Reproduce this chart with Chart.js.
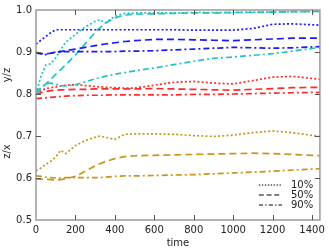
<!DOCTYPE html>
<html>
<head>
<meta charset="utf-8">
<script src="https://cdn.jsdelivr.net/npm/chart.js@4"></script>
<style>
  html, body { margin: 0; padding: 0; background: #fff; }
</style>
</head>
<body>
<canvas id="chart" width="329" height="250"></canvas>
<script>
const times  = [0, 25, 50, 75, 100, 125, 150, 200, 250, 300, 325, 350, 400, 450, 500, 600, 700, 800, 900, 1000, 1100, 1200, 1300, 1440];

// y/z curves
const blue10 = [0.919, 0.928, 0.937, 0.946, 0.953, 0.953, 0.953, 0.953, 0.953, 0.953, 0.953, 0.953, 0.953, 0.953, 0.953, 0.953, 0.953, 0.952, 0.952, 0.952, 0.956, 0.966, 0.967, 0.964];
const blue50 = [0.897, 0.896, 0.896, 0.897, 0.899, 0.901, 0.903, 0.907, 0.911, 0.915, 0.917, 0.919, 0.922, 0.925, 0.927, 0.930, 0.930, 0.929, 0.928, 0.927, 0.929, 0.931, 0.933, 0.933];
const blue90 = [0.899, 0.896, 0.894, 0.897, 0.900, 0.901, 0.901, 0.901, 0.901, 0.901, 0.901, 0.901, 0.901, 0.902, 0.902, 0.903, 0.905, 0.907, 0.909, 0.911, 0.910, 0.909, 0.910, 0.913];
const cyan10 = [0.800, 0.842, 0.869, 0.872, 0.886, 0.905, 0.923, 0.942, 0.960, 0.973, 0.977, 0.969, 0.985, 0.992, 0.993, 0.993, 0.993, 0.994, 0.994, 0.994, 0.995, 0.995, 0.996, 0.996];
const cyan50 = [0.800, 0.812, 0.824, 0.835, 0.847, 0.858, 0.869, 0.893, 0.920, 0.947, 0.958, 0.968, 0.981, 0.988, 0.990, 0.991, 0.992, 0.993, 0.993, 0.994, 0.994, 0.995, 0.996, 0.997];
const cyan90 = [0.805, 0.815, 0.824, 0.826, 0.823, 0.820, 0.819, 0.822, 0.829, 0.836, 0.839, 0.842, 0.847, 0.851, 0.855, 0.862, 0.870, 0.878, 0.885, 0.888, 0.892, 0.896, 0.902, 0.911];
const red10  = [0.800, 0.808, 0.813, 0.815, 0.817, 0.819, 0.821, 0.822, 0.820, 0.818, 0.817, 0.816, 0.815, 0.814, 0.814, 0.821, 0.828, 0.830, 0.826, 0.824, 0.832, 0.840, 0.842, 0.835];
const red50  = [0.799, 0.803, 0.806, 0.808, 0.809, 0.810, 0.810, 0.811, 0.811, 0.812, 0.812, 0.812, 0.812, 0.812, 0.812, 0.813, 0.812, 0.811, 0.810, 0.809, 0.811, 0.813, 0.815, 0.816];
const red90  = [0.789, 0.790, 0.791, 0.792, 0.793, 0.794, 0.795, 0.796, 0.797, 0.797, 0.797, 0.797, 0.798, 0.798, 0.798, 0.798, 0.798, 0.799, 0.799, 0.800, 0.801, 0.802, 0.803, 0.804];

// z/x curves
const gold10 = [0.617, 0.624, 0.632, 0.640, 0.650, 0.666, 0.658, 0.677, 0.689, 0.697, 0.700, 0.697, 0.692, 0.704, 0.705, 0.705, 0.704, 0.701, 0.699, 0.702, 0.708, 0.712, 0.708, 0.699];
const gold50 = [0.597, 0.597, 0.597, 0.596, 0.595, 0.596, 0.598, 0.604, 0.616, 0.629, 0.634, 0.639, 0.646, 0.651, 0.653, 0.654, 0.655, 0.656, 0.657, 0.658, 0.659, 0.658, 0.656, 0.653];
const gold90 = [0.605, 0.604, 0.602, 0.601, 0.600, 0.600, 0.601, 0.601, 0.601, 0.601, 0.601, 0.602, 0.604, 0.605, 0.605, 0.606, 0.607, 0.608, 0.610, 0.612, 0.614, 0.616, 0.619, 0.622];

const xTicks = [0, 200, 400, 600, 800, 1000, 1200, 1400];
const legendLabels = ['10%', '50%', '90%'];
const axisTitles = ['y/z', 'z/x'];

const FONT = 'DejaVu Sans';
const dashes = {
    '10%': [2, 2.2],
    '50%': [7, 4],
    '90%': [6, 3, 2, 3]
};

const series = [
    [blue10, '#1a1aff', '10%'], [blue50, '#1a1aff', '50%'], [blue90, '#1a1aff', '90%'],
    [cyan10, '#22c2c2', '10%'], [cyan50, '#22c2c2', '50%'], [cyan90, '#22c2c2', '90%'],
    [red10, '#ff2a2a', '10%'], [red50, '#ff2a2a', '50%'], [red90, '#ff2a2a', '90%'],
    [gold10, '#c8961a', '10%'], [gold50, '#c8961a', '50%'], [gold90, '#c8961a', '90%']
];

const datasets = series.map(([vals, color, q]) => ({
    label: q,
    data: times.map((t, i) => ({ x: t, y: vals[i] })),
    borderColor: color,
    borderWidth: 1.7,
    borderDash: dashes[q],
    pointRadius: 0,
    tension: 0,
    fill: false
}));

// box, inward ticks, the two y titles and the legend
const decor = {
    id: 'decor',
    afterDatasetsDraw(chart) {
        const { ctx, chartArea: a, scales } = chart;
        const xs = scales.x, ys = scales.y;
        ctx.save();
        ctx.lineWidth = 1.5;
        ctx.strokeStyle = '#9a9a9a';
        ctx.strokeRect(a.left, a.top, a.right - a.left, a.bottom - a.top);

        ctx.lineWidth = 1;
        ctx.strokeStyle = '#555';
        const seg = (x1, y1, x2, y2) => {
            ctx.beginPath(); ctx.moveTo(x1, y1); ctx.lineTo(x2, y2); ctx.stroke();
        };
        xs.ticks.forEach(t => {
            const px = Math.round(xs.getPixelForValue(t.value)) + 0.5;
            if (px <= a.left + 1 || px >= a.right - 1) return;
            seg(px, a.bottom, px, a.bottom - 5);
            seg(px, a.top, px, a.top + 5);
        });
        ys.ticks.forEach(t => {
            const py = Math.round(ys.getPixelForValue(t.value)) + 0.5;
            if (py <= a.top + 1 || py >= a.bottom - 1) return;
            seg(a.left, py, a.left + 5, py);
            seg(a.right, py, a.right - 5, py);
        });

        ctx.fillStyle = '#222';
        ctx.font = '10px "' + FONT + '"';
        ctx.textAlign = 'center';
        ctx.textBaseline = 'middle';
        [[axisTitles[0], 0.845], [axisTitles[1], 0.663]].forEach(([txt, v]) => {
            ctx.save();
            ctx.translate(7, ys.getPixelForValue(v));
            ctx.rotate(-Math.PI / 2);
            ctx.fillText(txt, 0, 0);
            ctx.restore();
        });

        ctx.textAlign = 'left';
        ctx.strokeStyle = '#000';
        legendLabels.forEach((q, i) => {
            const ly = a.bottom - 35 + i * 10;
            ctx.setLineDash(dashes[q].map(d => d * 0.7));
            seg(a.right - 61, ly, a.right - 38, ly);
            ctx.setLineDash([]);
            ctx.fillText(q, a.right - 29, ly);
        });
        ctx.restore();
    }
};

new Chart(document.getElementById('chart'), {
    type: 'line',
    data: { datasets },
    plugins: [decor],
    options: {
        responsive: false,
        animation: false,
        layout: { padding: { top: 5, right: 9, left: 0, bottom: 0 } },
        plugins: { legend: { display: false }, tooltip: { enabled: false } },
        scales: {
            x: {
                type: 'linear',
                min: 0,
                max: 1440,
                grid: { display: false, drawTicks: false },
                border: { display: false },
                afterBuildTicks: s => { s.ticks = xTicks.map(v => ({ value: v })); },
                afterFit: s => { s.height = 30; },
                ticks: {
                    padding: 4,
                    color: '#222',
                    font: { family: FONT, size: 10 },
                    maxRotation: 0,
                    callback: v => String(v)
                },
                title: { display: true, text: 'time', color: '#222', font: { family: FONT, size: 10 }, padding: { top: 0, bottom: 1 } }
            },
            y: {
                min: 0.5,
                max: 1.0,
                grid: { display: false, drawTicks: false },
                border: { display: false },
                afterFit: s => { s.width = 36; },
                ticks: {
                    stepSize: 0.1,
                    padding: 4,
                    color: '#222',
                    font: { family: FONT, size: 10 },
                    callback: v => v.toFixed(1)
                }
            }
        }
    }
});
</script>
</body>
</html>
